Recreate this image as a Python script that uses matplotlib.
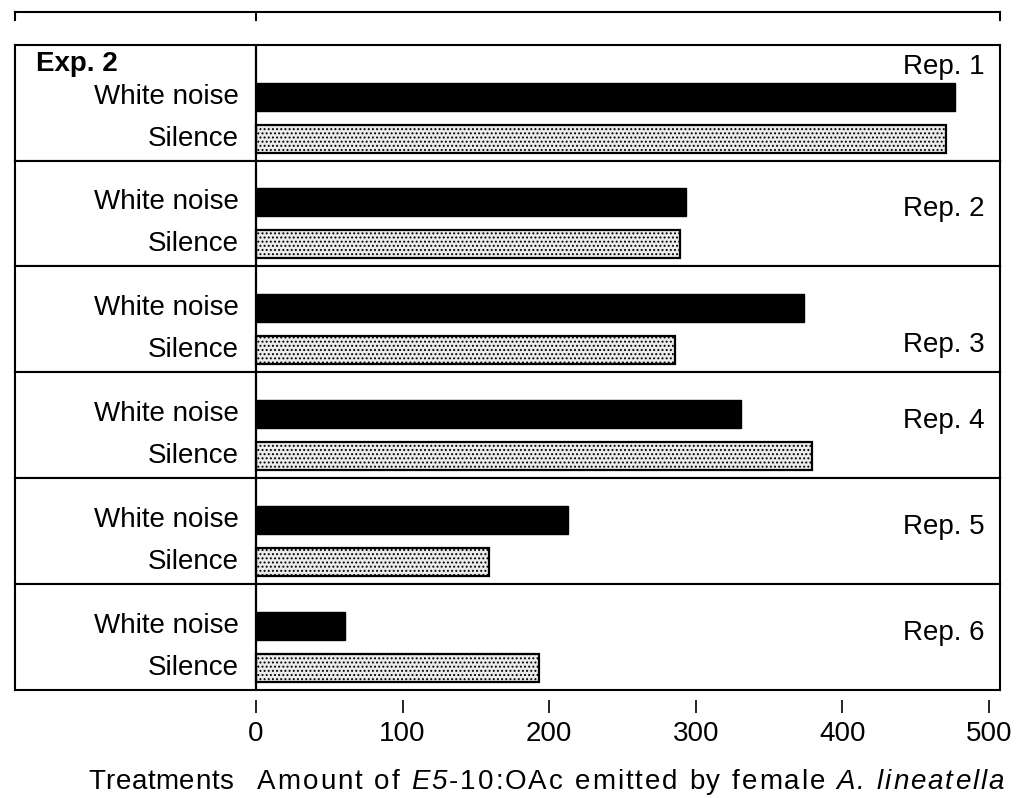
import numpy as np
import matplotlib
matplotlib.use("Agg")
import matplotlib.pyplot as plt

plt.rcParams['font.family'] = ['Liberation Sans', 'DejaVu Sans']
plt.rcParams['hatch.linewidth'] = 0.9

# E5-10:OAc emitted per replicate, white noise vs silence
reps = ["Rep. 1", "Rep. 2", "Rep. 3", "Rep. 4", "Rep. 5", "Rep. 6"]
white_noise = [477, 293, 374, 331, 213, 61]
silence = [471, 289, 286, 379, 159, 193]
treatments = ["White noise", "Silence"]
xticks = [0, 100, 200, 300, 400, 500]

W, H = 1031, 798
FS = 20

def px_x(x):
    return x / W

def px_y(y):
    return 1 - y / H

def tracked_text(fig, x, y, pieces, fontsize, extra):
    # lay out characters one by one with a little extra spacing
    r = fig.canvas.get_renderer()
    for s, style in pieces:
        for ch in s:
            t = fig.text(px_x(x), px_y(y), ch, ha="left", va="center",
                         fontsize=fontsize, style=style)
            w = t.get_window_extent(renderer=r).width
            if ch == " ":
                w = fontsize * 100 / 72 * 0.278
            x += w + extra

# horizontal mapping: 0 -> 256 px, 500 -> 989 px
scale = (989 - 256) / 500.0
xmin = (15 - 256) / scale
xmax = (1000 - 256) / scale

fig = plt.figure(figsize=(W / 100, H / 100), dpi=100)

gap = 42.0  # px between the two bar centres
edges = [45, 161, 266, 372, 478, 584, 690]
rep_y = [1.72, 0.83, 0.12, 0.83, 0.83, 0.83]

for i, rep in enumerate(reps):
    top, bot = edges[i], edges[i + 1]
    ph = bot - top
    ax = fig.add_axes([px_x(15), px_y(bot), px_x(1000 - 15), ph / H])
    ax.set_xlim(xmin, xmax)
    ylo = -22.0 / gap
    ax.set_ylim(ylo, ylo + ph / gap)
    ax.barh(1, white_noise[i], height=28 / gap, color="black", edgecolor="black")
    ax.barh(0, silence[i], height=28 / gap, color="#ebebeb", edgecolor="black",
            hatch="....", linewidth=1.6)
    ax.axvline(0, color="black", lw=1.6)
    for yy, lab in zip([1, 0], treatments):
        ax.text(-12, yy, lab, ha="right", va="center", fontsize=FS)
    ax.text(497, rep_y[i], rep, ha="right", va="center", fontsize=FS, zorder=5)
    if i == 0:
        ax.text(-150, 1.78, "Exp. 2", ha="left", va="center", fontsize=FS,
                weight="bold")
    ax.set_xticks([])
    ax.set_yticks([])
    for sp in ax.spines.values():
        sp.set_linewidth(1.5)

# top rule of the frame
fig.add_artist(plt.Line2D([px_x(15), px_x(1000)], [px_y(12), px_y(12)],
                          color="black", lw=1.5))
for xx in [15, 256, 1000]:
    fig.add_artist(plt.Line2D([px_x(xx), px_x(xx)], [px_y(12), px_y(20)],
                              color="black", lw=1.5))

# value axis below the panels
axx = fig.add_axes([px_x(15), px_y(700), px_x(1000 - 15), 0.0001])
axx.set_xlim(xmin, xmax)
axx.set_yticks([])
for sp in axx.spines.values():
    sp.set_visible(False)
axx.set_xticks(xticks)
axx.set_xticklabels([str(t) for t in xticks], fontsize=FS)
axx.tick_params(axis="x", direction="out", length=9, width=1.2, pad=6)

tracked_text(fig, 88, 782, [("Treatments", "normal")], FS, 0.6)
tracked_text(fig, 257, 782,
             [("Amount of ", "normal"), ("E5", "italic"),
              ("-10:OAc emitted by female ", "normal"),
              ("A. lineatella", "italic")], FS, 2.0)

fig.savefig("out.png", dpi=100, facecolor="white")
